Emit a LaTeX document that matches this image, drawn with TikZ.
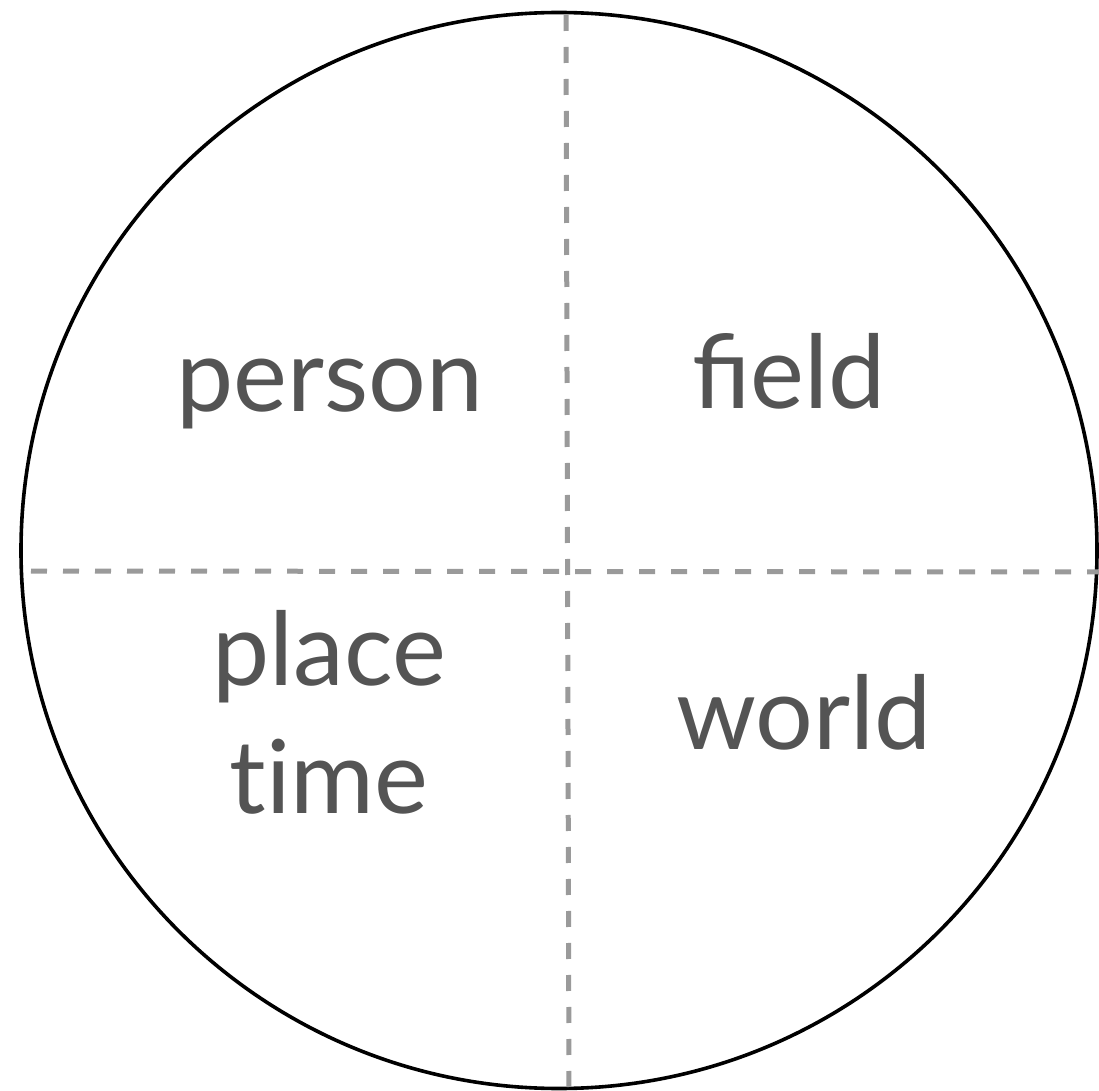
\documentclass[tikz,border=0pt]{standalone}
\usepackage{fontspec}
\setmainfont{Lato}
\definecolor{quadtext}{HTML}{545454}
\definecolor{quadline}{HTML}{9A9A9A}
\tikzset{
  rim/.style={draw=black,line width=1.8pt},
  divider/.style={quadline,line width=2.5pt,dash pattern=on 8pt off 8pt},
  label/.style={text=quadtext,inner sep=0pt,anchor=base,align=center,
    font=\fontsize{51}{64}\selectfont}
}

\begin{document}
\begin{tikzpicture}[x=0.5pt,y=-0.5pt]
  \useasboundingbox (0,0) rectangle (1099,1091);
  \node[rim,circle,minimum size=538pt,inner sep=0pt] (disc) at (559,550.5) {};
  \coordinate (top) at (566,15);
  \coordinate (bottom) at (569,1088);
  \coordinate (left) at (31,571);
  \coordinate (right) at (1099,572);
  \draw[divider] (top) -- (bottom);
  \draw[divider] (left) -- (right);
  \node[label] (person) at (330,412) {person};
  \node[label] (field) at (789,409) {field};
  \node[label] (placetime) at (329,813) {place\\t\kern0pt ime};
  \node[label] (world) at (804,749) {world};
\end{tikzpicture}
\end{document}
